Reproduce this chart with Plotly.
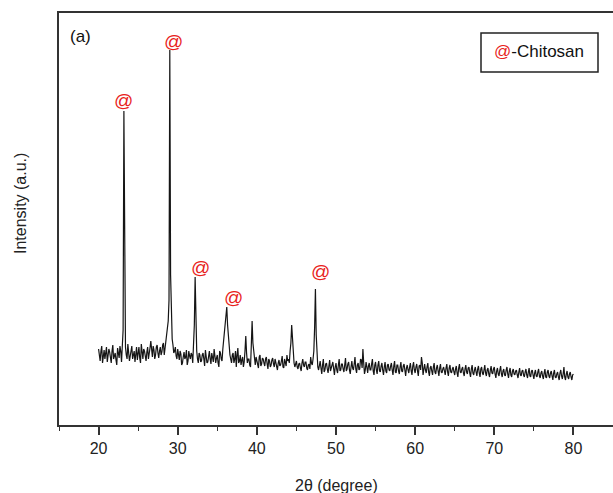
import numpy as np
import plotly.graph_objects as go

# 2-theta scan grid (degrees): points at x.0, x.2, x.4, x.6, x.8
two_theta_a = np.round(np.arange(20.0, 80.001, 0.2), 1)
# in-between points at x.1, x.3, x.5, x.7, x.9
two_theta_b = np.round(np.arange(20.1, 80.0, 0.2), 1)

# Intensity (a.u.) at x.0, x.2, x.4, x.6, x.8
intensity_a = [
    76, 64, 79, 70, 66,   # 20
    78, 68, 73, 62, 80,   # 21
    70, 65, 77, 67, 74,   # 22
    86, 314, 78, 66, 75,  # 23
    69, 79, 71, 63, 78,   # 24
    72, 67, 81, 66, 74,   # 25
    64, 78, 70, 84, 68,   # 26
    75, 70, 80, 67, 78,   # 27
    73, 82, 76, 88, 104,  # 28
    375, 98, 80, 74, 69,  # 29
    76, 65, 71, 62, 73,   # 30
    68, 60, 74, 66, 70,   # 31
    82, 148, 74, 62, 70,  # 32
    64, 72, 59, 70, 63,   # 33
    74, 61, 68, 76, 62,   # 34
    70, 58, 72, 64, 84,   # 35
    96, 118, 86, 70, 62,  # 36
    72, 66, 58, 77, 64,   # 37
    60, 68, 63, 89, 62,   # 38
    66, 58, 104, 72, 60,  # 39
    65, 57, 70, 61, 66,   # 40
    59, 68, 56, 64, 60,   # 41
    67, 58, 63, 55, 65,   # 42
    60, 69, 57, 63, 70,   # 43
    66, 74, 100, 70, 58,  # 44
    64, 56, 62, 54, 66,   # 45
    58, 63, 55, 61, 68,   # 46
    60, 74, 136, 62, 55,  # 47
    64, 51, 66, 55, 62,   # 48
    52, 65, 56, 63, 50,   # 49
    62, 52, 66, 55, 61,   # 50
    53, 67, 56, 63, 51,   # 51
    64, 55, 68, 52, 62,   # 52
    56, 65, 76, 51, 63,   # 53
    52, 62, 55, 66, 50,   # 54
    63, 51, 64, 53, 62,   # 55
    50, 63, 52, 61, 54,   # 56
    62, 50, 64, 52, 60,   # 57
    51, 63, 53, 61, 49,   # 58
    60, 52, 62, 50, 63,   # 59
    52, 61, 49, 60, 68,   # 60
    50, 61, 52, 62, 49,   # 61
    59, 50, 62, 51, 60,   # 62
    49, 61, 52, 58, 50,   # 63
    61, 49, 60, 52, 58,   # 64
    50, 59, 48, 61, 52,   # 65
    58, 49, 60, 51, 58,   # 66
    48, 60, 50, 58, 49,   # 67
    59, 48, 58, 50, 60,   # 68
    49, 57, 48, 59, 51,   # 69
    58, 47, 57, 49, 59,   # 70
    48, 56, 49, 58, 47,   # 71
    57, 48, 56, 50, 55,   # 72
    47, 57, 49, 55, 48,   # 73
    56, 47, 57, 48, 55,   # 74
    46, 55, 48, 56, 47,   # 75
    54, 46, 56, 47, 55,   # 76
    47, 54, 45, 55, 47,   # 77
    53, 45, 55, 46, 58,   # 78
    45, 54, 46, 53, 45,   # 79
    51,                   # 80
]

# Intensity (a.u.) at x.1, x.3, x.5, x.7, x.9
intensity_b = [
    68, 74, 62, 75, 71,   # 20
    63, 76, 69, 74, 66,   # 21
    72, 60, 71, 79, 63,   # 22
    95, 110, 70, 81, 64,  # 23
    75, 66, 74, 70, 65,   # 24
    78, 62, 72, 76, 69,   # 25
    73, 66, 77, 72, 79,   # 26
    66, 78, 72, 74, 70,   # 27
    80, 70, 84, 94, 125,  # 28
    150, 86, 72, 78, 66,  # 29
    70, 74, 60, 68, 66,   # 30
    75, 64, 69, 72, 62,   # 31
    100, 90, 66, 72, 63,  # 32
    70, 66, 75, 62, 71,   # 33
    66, 72, 63, 70, 67,   # 34
    62, 74, 66, 76, 90,   # 35
    108, 100, 74, 66, 70, # 36
    62, 74, 70, 62, 70,   # 37
    65, 58, 74, 72, 66,   # 38
    60, 80, 82, 64, 68,   # 39
    61, 68, 59, 67, 62,   # 40
    66, 61, 66, 58, 65,   # 41
    61, 66, 58, 62, 59,   # 42
    64, 58, 66, 59, 64,   # 43
    62, 82, 84, 62, 63,   # 44
    58, 61, 57, 62, 60,   # 45
    63, 57, 60, 56, 62,   # 46
    66, 98, 90, 58, 61,   # 47
    57, 60, 53, 61, 56,   # 48
    59, 54, 60, 55, 58,   # 49
    55, 60, 54, 61, 56,   # 50
    60, 54, 61, 55, 58,   # 51
    57, 61, 56, 60, 55,   # 52
    66, 57, 62, 55, 58,   # 53
    59, 55, 61, 54, 60,   # 54
    55, 60, 54, 59, 55,   # 55
    58, 54, 60, 55, 59,   # 56
    55, 59, 53, 60, 54,   # 57
    58, 54, 59, 55, 57,   # 58
    55, 58, 54, 59, 55,   # 59
    58, 54, 59, 55, 62,   # 60
    56, 55, 58, 53, 57,   # 61
    54, 58, 53, 57, 54,   # 62
    57, 53, 56, 54, 57,   # 63
    53, 57, 53, 56, 53,   # 64
    56, 52, 57, 53, 56,   # 65
    52, 56, 53, 57, 52,   # 66
    56, 52, 55, 53, 56,   # 67
    52, 56, 52, 55, 52,   # 68
    55, 51, 55, 52, 56,   # 69
    51, 54, 51, 55, 51,   # 70
    54, 50, 55, 51, 54,   # 71
    50, 54, 51, 54, 50,   # 72
    53, 50, 54, 50, 53,   # 73
    50, 53, 49, 54, 50,   # 74
    52, 49, 53, 49, 52,   # 75
    49, 52, 48, 53, 49,   # 76
    52, 49, 52, 48, 51,   # 77
    48, 52, 49, 51, 48,   # 78
    51, 48, 51, 48, 50,   # 79
]

# Chitosan-marked peaks (2-theta positions)
peak_positions = [23.2, 29.0, 32.2, 36.2, 47.4]
peak_marker = "@"
legend_label = "-Chitosan"
panel_label = "(a)"
x_title = "2θ (degree)"
y_title = "Intensity (a.u.)"
x_ticks = [20, 30, 40, 50, 60, 70, 80]

# merge the two interleaved sample sets into one scan
xs = np.concatenate([two_theta_a, two_theta_b])
ys = np.concatenate([np.array(intensity_a), np.array(intensity_b)])
order = np.argsort(xs)
two_theta = xs[order]
intensity = ys[order]

lookup = dict(zip(two_theta_a.tolist(), intensity_a))

fig = go.Figure()
fig.add_trace(go.Scatter(
    x=two_theta, y=intensity, mode="lines",
    line=dict(color="#151515", width=1.2),
    showlegend=False, hoverinfo="skip",
))

# offsets (px) of each marker relative to its peak top
shifts = [(0, 11), (4, 9), (5, 10), (7, 10), (5, 18)]
for px, (dx, dy) in zip(peak_positions, shifts):
    fig.add_annotation(
        x=px, y=lookup[px], xref="x", yref="y",
        text=peak_marker, showarrow=False,
        xshift=dx, yshift=dy, xanchor="center", yanchor="middle",
        font=dict(color="#e8221c", size=19, family="Liberation Sans, Arial"),
    )

W, H = 613, 493
L, T, B = 59, 13, 68
pw, ph = W - L, H - T - B


def px2paper(xp, yp):
    return (xp - L) / pw, (H - B - yp) / ph


# panel label
ax, ay = px2paper(80, 37)
fig.add_annotation(x=ax, y=ay, xref="paper", yref="paper", text=panel_label,
                   xanchor="center", yanchor="middle",
                   showarrow=False, font=dict(size=17, color="#111"))

# legend box
x0, y0 = px2paper(481, 72)
x1, y1 = px2paper(598, 33)
fig.add_shape(type="rect", xref="paper", yref="paper", x0=x0, y0=y0, x1=x1, y1=y1,
              line=dict(color="#222", width=1.5), fillcolor="white")
lx, ly = px2paper(539, 52)
fig.add_annotation(x=lx, y=ly, xref="paper", yref="paper",
                   text=f"<span style='color:#e8221c'>{peak_marker}</span>{legend_label}",
                   xanchor="center", yanchor="middle",
                   showarrow=False, font=dict(size=17, color="#111"))

# axis titles
tx, ty = px2paper(336, 485)
fig.add_annotation(x=tx, y=ty, xref="paper", yref="paper", text=x_title,
                   xanchor="center", yanchor="middle",
                   showarrow=False, font=dict(size=16, color="#222"))
yx, yy = px2paper(20, 204)
fig.add_annotation(x=yx, y=yy, xref="paper", yref="paper", text=y_title,
                   xanchor="center", yanchor="middle",
                   showarrow=False, textangle=-90, font=dict(size=16, color="#222"))

fig.update_layout(
    width=W, height=H,
    margin=dict(l=L, r=0, t=T, b=B),
    paper_bgcolor="white", plot_bgcolor="white",
    font=dict(family="Liberation Sans, Arial, sans-serif", color="#222"),
    xaxis=dict(
        range=[15, 85], tickvals=x_ticks, ticks="outside", ticklen=8, tickwidth=1.5,
        tickcolor="#333", showline=True, linecolor="#333", linewidth=1.5,
        mirror=True, showgrid=False, zeroline=False,
        tickfont=dict(size=16, color="#222"),
        minor=dict(dtick=5, tick0=15, ticks="outside", ticklen=4, tickwidth=1.2,
                   tickcolor="#333", showgrid=False),
    ),
    yaxis=dict(
        range=[0, ph], showticklabels=False, ticks="", showline=True,
        linecolor="#333", linewidth=1.5, showgrid=False, zeroline=False,
    ),
)

fig.write_html(
    "out.html",
    config={"displayModeBar": False},
    post_script="document.body.style.margin='0';document.body.style.overflow='hidden';",
)
